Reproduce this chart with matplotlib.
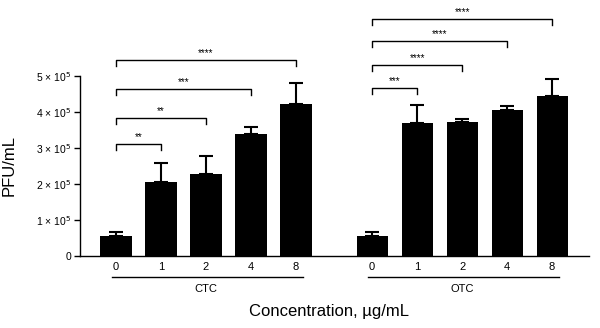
import matplotlib.pyplot as plt
import numpy as np

plt.rcParams['font.family'] = ['Liberation Sans', 'DejaVu Sans']

doses = ['0', '1', '2', '4', '8']
groups = ['CTC', 'OTC']
# mean PFU/mL (x 1e5) and upper SD (x 1e5)
ctc_mean = [0.56, 2.06, 2.28, 3.39, 4.22]
ctc_err = [0.10, 0.52, 0.50, 0.19, 0.59]
otc_mean = [0.56, 3.69, 3.73, 4.06, 4.44]
otc_err = [0.10, 0.50, 0.07, 0.11, 0.48]

# significance brackets: (target dose index, bracket height x1e5, label)
ctc_sig = [(1, 3.11, '**'), (2, 3.83, '**'), (3, 4.64, '***'), (4, 5.44, '****')]
otc_sig = [(1, 4.67, '***'), (2, 5.30, '****'), (3, 5.97, '****'), (4, 6.58, '****')]

fig = plt.figure(figsize=(6, 3.28), dpi=100)
ax = fig.add_axes([80 / 600, 72 / 328, 509 / 600, 256 / 328])

offsets = [0, 5.69]
all_x = []
all_lab = []
for gi, (name, mean, err, sig) in enumerate(zip(groups, [ctc_mean, otc_mean],
                                                  [ctc_err, otc_err], [ctc_sig, otc_sig])):
    x = np.arange(len(doses)) + offsets[gi]
    ax.errorbar(x, mean, yerr=[np.zeros(len(err)), err], fmt='none',
                ecolor='black', elinewidth=1.5, capsize=5, capthick=1.5, zorder=1)
    ax.bar(x, mean, width=0.69, color='black', zorder=2)
    all_x.extend(x)
    all_lab.extend(doses)

    # group underline and label
    ax.plot([x[0] - 0.08, x[-1] + 0.15], [-0.58, -0.58], color='black', lw=1,
            clip_on=False)
    ax.text((x[0] + x[-1]) / 2, -0.93, name, ha='center', va='center', fontsize=8)

    # brackets
    for idx, h, lab in sig:
        ax.plot([x[0], x[0], x[idx], x[idx]], [h - 0.16, h, h, h - 0.16],
                color='black', lw=1, clip_on=False)
        ax.text((x[0] + x[idx]) / 2, h + 0.05, lab, ha='center', va='bottom',
                fontsize=7)

ax.set_xticks(all_x)
ax.set_xticklabels(all_lab, fontsize=8)
ax.tick_params(axis='x', length=0, pad=4)

yt = [0, 1, 2, 3, 4, 5]
ax.set_yticks(yt)
ax.set_yticklabels(['0'] + [f'{v} × 10$^5$' for v in yt[1:]], fontsize=7.5)
ax.tick_params(axis='y', length=4, width=1, direction='out', pad=2)

ax.set_xlim(-0.8, 10.51)
ax.set_ylim(0, 7.11)
ax.spines['top'].set_visible(False)
ax.spines['right'].set_visible(False)
ax.spines['left'].set_bounds(0, 5)
ax.spines['left'].set_linewidth(1)
ax.spines['bottom'].set_linewidth(1)

ax.set_ylabel('PFU/mL', fontsize=12)
ax.yaxis.set_label_coords(-63 / 509, 2.5 / 7.11)
ax.set_xlabel('Concentration, µg/mL', fontsize=12)
ax.xaxis.set_label_coords(0.49, -48 / 256)

fig.savefig('out.png', dpi=100)
